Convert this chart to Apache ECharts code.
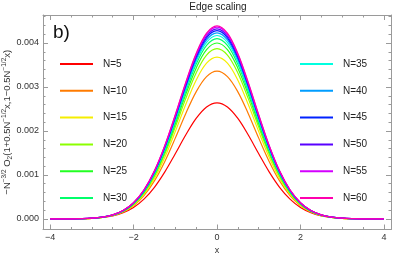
<!DOCTYPE html>
<html><head><meta charset="utf-8">
<script src="https://cdn.jsdelivr.net/npm/echarts@6/dist/echarts.min.js"></script>
<style>html,body{margin:0;padding:0;background:#fff}#c{width:407px;height:260px}</style>
</head><body><div id="c"></div>
<script>
const xValues = [-4,-3.75,-3.5,-3.25,-3,-2.75,-2.5,-2.25,-2,-1.75,-1.5,-1.25,-1,-0.75,-0.5,-0.25,0,0.25,0.5,0.75,1,1.25,1.5,1.75,2,2.25,2.5,2.75,3,3.25,3.5,3.75,4];
const seriesNames = ['N=5','N=10','N=15','N=20','N=25','N=30','N=35','N=40','N=45','N=50','N=55','N=60'];
const n5  = [0.0003e-3,0.0008e-3,0.0022e-3,0.0059e-3,0.0145e-3,0.0333e-3,0.0713e-3,0.142e-3,0.261e-3,0.450e-3,0.719e-3,1.070e-3,1.481e-3,1.907e-3,2.285e-3,2.546e-3,2.640e-3,2.546e-3,2.285e-3,1.907e-3,1.481e-3,1.070e-3,0.719e-3,0.450e-3,0.261e-3,0.142e-3,0.0713e-3,0.0333e-3,0.0145e-3,0.0059e-3,0.0022e-3,0.0008e-3,0.0003e-3];
const n10 = [0.0002e-3,0.0007e-3,0.0020e-3,0.0057e-3,0.0146e-3,0.0349e-3,0.0773e-3,0.158e-3,0.300e-3,0.529e-3,0.864e-3,1.308e-3,1.837e-3,2.393e-3,2.889e-3,3.236e-3,3.360e-3,3.236e-3,2.889e-3,2.393e-3,1.837e-3,1.308e-3,0.864e-3,0.529e-3,0.300e-3,0.158e-3,0.0773e-3,0.0349e-3,0.0146e-3,0.0057e-3,0.0020e-3,0.0007e-3,0.0002e-3];
const n15 = [0.0002e-3,0.0006e-3,0.0019e-3,0.0054e-3,0.0142e-3,0.0346e-3,0.0776e-3,0.162e-3,0.312e-3,0.556e-3,0.918e-3,1.403e-3,1.985e-3,2.600e-3,3.154e-3,3.541e-3,3.680e-3,3.541e-3,3.154e-3,2.600e-3,1.985e-3,1.403e-3,0.918e-3,0.556e-3,0.312e-3,0.162e-3,0.0776e-3,0.0346e-3,0.0142e-3,0.0054e-3,0.0019e-3,0.0006e-3,0.0002e-3];
const n20 = [0.0002e-3,0.0007e-3,0.0020e-3,0.0057e-3,0.0149e-3,0.0363e-3,0.0817e-3,0.170e-3,0.328e-3,0.584e-3,0.965e-3,1.475e-3,2.087e-3,2.735e-3,3.317e-3,3.724e-3,3.870e-3,3.724e-3,3.317e-3,2.735e-3,2.087e-3,1.475e-3,0.965e-3,0.584e-3,0.328e-3,0.170e-3,0.0817e-3,0.0363e-3,0.0149e-3,0.0057e-3,0.0020e-3,0.0007e-3,0.0002e-3];
const n25 = [0.0002e-3,0.0007e-3,0.0021e-3,0.0059e-3,0.0154e-3,0.0376e-3,0.0844e-3,0.176e-3,0.339e-3,0.604e-3,0.998e-3,1.525e-3,2.158e-3,2.826e-3,3.428e-3,3.849e-3,4.000e-3,3.849e-3,3.428e-3,2.826e-3,2.158e-3,1.525e-3,0.998e-3,0.604e-3,0.339e-3,0.176e-3,0.0844e-3,0.0376e-3,0.0154e-3,0.0059e-3,0.0021e-3,0.0007e-3,0.0002e-3];
const n30 = [0.0002e-3,0.0007e-3,0.0021e-3,0.0060e-3,0.0158e-3,0.0385e-3,0.0865e-3,0.180e-3,0.347e-3,0.619e-3,1.023e-3,1.563e-3,2.212e-3,2.897e-3,3.514e-3,3.945e-3,4.100e-3,3.945e-3,3.514e-3,2.897e-3,2.212e-3,1.563e-3,1.023e-3,0.619e-3,0.347e-3,0.180e-3,0.0865e-3,0.0385e-3,0.0158e-3,0.0060e-3,0.0021e-3,0.0007e-3,0.0002e-3];
const n35 = [0.0002e-3,0.0007e-3,0.0022e-3,0.0061e-3,0.0161e-3,0.0392e-3,0.0880e-3,0.183e-3,0.353e-3,0.630e-3,1.040e-3,1.590e-3,2.249e-3,2.947e-3,3.574e-3,4.012e-3,4.170e-3,4.012e-3,3.574e-3,2.947e-3,2.249e-3,1.590e-3,1.040e-3,0.630e-3,0.353e-3,0.183e-3,0.0880e-3,0.0392e-3,0.0161e-3,0.0061e-3,0.0022e-3,0.0007e-3,0.0002e-3];
const n40 = [0.0002e-3,0.0007e-3,0.0022e-3,0.0062e-3,0.0163e-3,0.0397e-3,0.0893e-3,0.186e-3,0.358e-3,0.639e-3,1.055e-3,1.612e-3,2.282e-3,2.989e-3,3.625e-3,4.070e-3,4.230e-3,4.070e-3,3.625e-3,2.989e-3,2.282e-3,1.612e-3,1.055e-3,0.639e-3,0.358e-3,0.186e-3,0.0893e-3,0.0397e-3,0.0163e-3,0.0062e-3,0.0022e-3,0.0007e-3,0.0002e-3];
const n45 = [0.0002e-3,0.0007e-3,0.0022e-3,0.0063e-3,0.0165e-3,0.0402e-3,0.0903e-3,0.188e-3,0.363e-3,0.646e-3,1.067e-3,1.632e-3,2.309e-3,3.024e-3,3.668e-3,4.118e-3,4.280e-3,4.118e-3,3.668e-3,3.024e-3,2.309e-3,1.632e-3,1.067e-3,0.646e-3,0.363e-3,0.188e-3,0.0903e-3,0.0402e-3,0.0165e-3,0.0063e-3,0.0022e-3,0.0007e-3,0.0002e-3];
const n50 = [0.0002e-3,0.0007e-3,0.0022e-3,0.0064e-3,0.0167e-3,0.0406e-3,0.0912e-3,0.190e-3,0.366e-3,0.652e-3,1.077e-3,1.647e-3,2.330e-3,3.053e-3,3.702e-3,4.157e-3,4.320e-3,4.157e-3,3.702e-3,3.053e-3,2.330e-3,1.647e-3,1.077e-3,0.652e-3,0.366e-3,0.190e-3,0.0912e-3,0.0406e-3,0.0167e-3,0.0064e-3,0.0022e-3,0.0007e-3,0.0002e-3];
const n55 = [0.0002e-3,0.0007e-3,0.0023e-3,0.0064e-3,0.0168e-3,0.0409e-3,0.0920e-3,0.191e-3,0.369e-3,0.658e-3,1.087e-3,1.662e-3,2.352e-3,3.081e-3,3.737e-3,4.195e-3,4.360e-3,4.195e-3,3.737e-3,3.081e-3,2.352e-3,1.662e-3,1.087e-3,0.658e-3,0.369e-3,0.191e-3,0.0920e-3,0.0409e-3,0.0168e-3,0.0064e-3,0.0023e-3,0.0007e-3,0.0002e-3];
const n60 = [0.0002e-3,0.0007e-3,0.0023e-3,0.0065e-3,0.0169e-3,0.0412e-3,0.0926e-3,0.193e-3,0.372e-3,0.663e-3,1.095e-3,1.673e-3,2.368e-3,3.102e-3,3.762e-3,4.224e-3,4.390e-3,4.224e-3,3.762e-3,3.102e-3,2.368e-3,1.673e-3,1.095e-3,0.663e-3,0.372e-3,0.193e-3,0.0926e-3,0.0412e-3,0.0169e-3,0.0065e-3,0.0023e-3,0.0007e-3,0.0002e-3];
const seriesValues = [n5,n10,n15,n20,n25,n30,n35,n40,n45,n50,n55,n60];
const xMajorTicks = [-4,-2,0,2,4];
const xMinorTicks = [-4,-3.5,-3,-2.5,-2,-1.5,-1,-0.5,0,0.5,1,1.5,2,2.5,3,3.5,4];
const yMajorTicks = [0,0.001,0.002,0.003,0.004];
const yMinorTicks = [0,0.0002,0.0004,0.0006,0.0008,0.001,0.0012,0.0014,0.0016,0.0018,0.002,0.0022,0.0024,0.0026,0.0028,0.003,0.0032,0.0034,0.0036,0.0038,0.004,0.0042,0.0044,0.0046];

const colors = ['#ff0000','#ff7b00','#f5ee00','#8cff00','#22ff22','#00ff6a','#00ffe0','#009dff','#0022ff','#5900ff','#d400ff','#ff00ae'];
const FONT = '"Liberation Sans", Arial, sans-serif';
const X0 = -4.17, X1 = 4.17, Y0 = -0.00024, Y1 = 0.004636;
const frame = '#9a9a9a';

function xAxisDef(pos, major) {
  return {
    type: 'value', min: X0, max: X1, position: pos, gridIndex: 0,
    axisLine: { show: major, onZero: false, lineStyle: { color: frame, width: 1 } },
    axisTick: { show: true, inside: true, length: major ? 5 : 2.5, customValues: major ? xMajorTicks : xMinorTicks, lineStyle: { color: frame, width: 1 } },
    axisLabel: { show: major && pos === 'bottom', customValues: xMajorTicks, margin: 4, fontSize: 9, fontFamily: FONT, color: '#333',
      formatter: v => v < 0 ? '\u2212' + Math.abs(v) : String(v) },
    splitLine: { show: false },
    name: (major && pos === 'bottom') ? 'x' : '',
    nameLocation: 'middle', nameGap: 17, nameMoveOverlap: false,
    nameTextStyle: { fontSize: 9, fontFamily: FONT, color: '#333' }
  };
}
function yAxisDef(pos, major) {
  const isName = major && pos === 'left';
  return {
    type: 'value', min: Y0, max: Y1, position: pos, gridIndex: 0,
    axisLine: { show: major, onZero: false, lineStyle: { color: frame, width: 1 } },
    axisTick: { show: true, inside: true, length: major ? 5 : 2.5, customValues: major ? yMajorTicks : yMinorTicks, lineStyle: { color: frame, width: 1 } },
    axisLabel: { show: isName, customValues: yMajorTicks, margin: 4, fontSize: 9, fontFamily: FONT, color: '#333',
      formatter: v => v.toFixed(3) },
    splitLine: { show: false },
    name: isName ? '{n|\u2212N}{sup|\u22123/2}{n| O}{sub|2}{n|(1+0.5N}{sup|\u22121/2}{n|x,1\u22120.5N}{sup|\u22121/2}{n|x)}' : '',
    nameLocation: 'middle', nameGap: 29, nameRotate: 90, nameMoveOverlap: false,
    nameTextStyle: { fontFamily: FONT, color: '#333', rich: {
      n: { fontSize: 9.5, fontFamily: FONT, color: '#333', lineHeight: 13 },
      sup: { fontSize: 6.5, fontFamily: FONT, color: '#333', lineHeight: 7, verticalAlign: 'top' },
      sub: { fontSize: 6.5, fontFamily: FONT, color: '#333', lineHeight: 7, verticalAlign: 'bottom' }
    } }
  };
}

const series = seriesValues.map((vals, i) => ({
  name: seriesNames[i], type: 'line', xAxisIndex: 0, yAxisIndex: 0,
  data: xValues.map((x, j) => [x, vals[j]]),
  showSymbol: false, symbol: 'none', smooth: 0.35,
  lineStyle: { width: 1.2, color: colors[i] }, itemStyle: { color: colors[i] },
  z: 2 + i, animation: false
}));

function legendDef(names, left) {
  return {
    data: names, orient: 'vertical', left: left, top: 57, padding: 0,
    itemWidth: 33, itemHeight: 2, itemGap: 12.8, icon: 'rect', selectedMode: false,
    textStyle: { fontSize: 10, fontFamily: FONT, color: '#222', lineHeight: 14, padding: [0, 0, 0, 5] }
  };
}

const chart = echarts.init(document.getElementById('c'), null, { renderer: 'canvas' });
chart.setOption({
  animation: false,
  backgroundColor: '#fff',
  grid: { left: 43, right: 16, top: 15, bottom: 30.5, containLabel: false, outerBoundsMode: 'none' },
  xAxis: [xAxisDef('bottom', true), xAxisDef('bottom', false), xAxisDef('top', true), xAxisDef('top', false)],
  yAxis: [yAxisDef('left', true), yAxisDef('left', false), yAxisDef('right', true), yAxisDef('right', false)],
  legend: [legendDef(seriesNames.slice(0, 6), 60), legendDef(seriesNames.slice(6), 300)],
  graphic: [
    { type: 'text', x: 218, y: 2, style: { text: 'Edge scaling', fontSize: 10, fontFamily: FONT, fill: '#222', align: 'center', verticalAlign: 'top' } },
    { type: 'text', x: 53, y: 23, style: { text: 'b)', fontSize: 19, fontFamily: FONT, fill: '#111', align: 'left', verticalAlign: 'top' } }
  ],
  series: series
});
</script></body></html>
